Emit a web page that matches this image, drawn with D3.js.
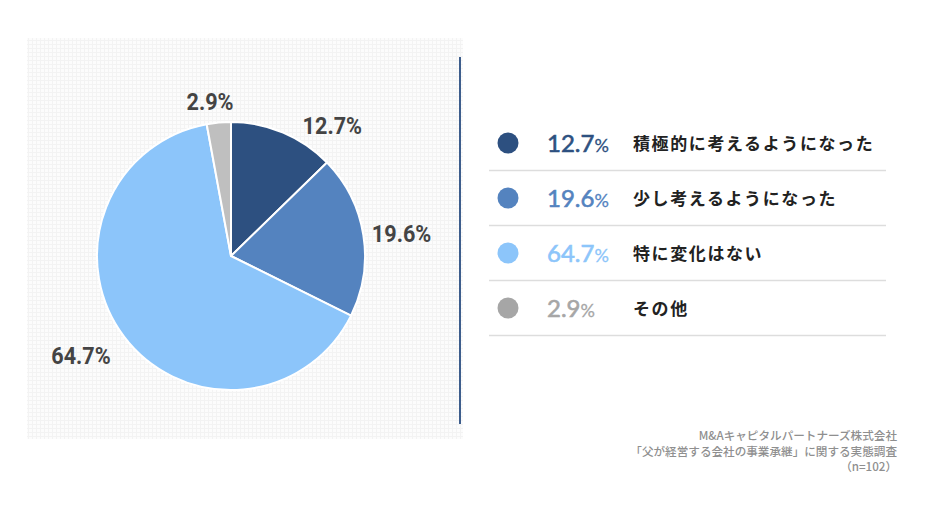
<!DOCTYPE html>
<html>
<head>
<meta charset="utf-8">
<script src="https://cdn.jsdelivr.net/npm/d3@7"></script>
<style>
  html, body { margin: 0; padding: 0; background: #ffffff; }
  svg { display: block; }
</style>
</head>
<body>
<svg id="chart" width="930" height="510"></svg>
<script>
// ---- data ----
const categories = ["積極的に考えるようになった", "少し考えるようになった", "特に変化はない", "その他"];
const values = [12.7, 19.6, 64.7, 2.9];
const sliceColors = ["#2d5080", "#5483bf", "#8cc5fa", "#bfbfbf"];
const legendColors = ["#2d5080", "#5483bf", "#8cc5fa", "#a6a6a6"];
const sourceLines = ["M&Aキャピタルパートナーズ株式会社", "「父が経営する会社の事業承継」に関する実態調査", "（n=102）"];

const svg = d3.select("#chart");

// ---- background panel with faint grid ----
const defs = svg.append("defs");
const pat = defs.append("pattern").attr("id", "grid")
  .attr("width", 4).attr("height", 4).attr("patternUnits", "userSpaceOnUse");
pat.append("rect").attr("width", 4).attr("height", 4).attr("fill", "#fcfcfc");
pat.append("path").attr("d", "M0,0.5H4M0.5,0V4").attr("stroke", "#f3f3f3").attr("stroke-width", 1);

svg.append("rect").attr("x", 27).attr("y", 38).attr("width", 436).attr("height", 401)
  .attr("fill", "url(#grid)");

svg.append("line").attr("x1", 460).attr("x2", 460).attr("y1", 57).attr("y2", 424)
  .attr("stroke", "#3d5d8c").attr("stroke-width", 2);

// ---- pie ----
const cx = 231, cy = 256, R = 134;
const data = categories.map((c, i) => ({ cat: c, value: values[i], i }));
const pie = d3.pie().value(d => d.value).sort(null);
const arcs = pie(data);
const arc = d3.arc().innerRadius(0).outerRadius(R);

const g = svg.append("g").attr("transform", `translate(${cx},${cy})`);
g.selectAll("path.slice").data(arcs).join("path")
  .attr("class", "slice")
  .attr("d", arc)
  .attr("fill", d => sliceColors[d.data.i])
  .attr("stroke", "#ffffff")
  .attr("stroke-width", 2)
  .attr("stroke-linejoin", "round");

// labels: placed outside, around the slice mid-angle (small angular nudges for layout)
const labelNudge = [15, 1.5, 3.5, -2.5];   // degrees
const labelRad = [165, 172, 180, 156];
g.selectAll("text.plabel").data(arcs).join("text")
  .attr("class", "plabel")
  .attr("transform", d => {
    const a = (d.startAngle + d.endAngle) / 2 + labelNudge[d.data.i] * Math.PI / 180;
    const r = labelRad[d.data.i];
    return `translate(${r * Math.sin(a)},${-r * Math.cos(a)}) scale(0.9,1)`;
  })
  .attr("text-anchor", "middle")
  .attr("dy", "0.36em")
  .attr("font-family", "Roboto, 'DejaVu Sans', sans-serif")
  .attr("font-weight", 700)
  .attr("font-size", 24)
  .attr("fill", "#444444")
  .text(d => d.data.value.toFixed(1) + "%");

// ---- legend ----
const rowY = d3.scalePoint().domain(d3.range(categories.length)).range([143, 308]);
const lg = svg.append("g");
const rows = lg.selectAll("g.row").data(data).join("g")
  .attr("class", "row")
  .attr("transform", d => `translate(0,${rowY(d.i)})`);

rows.append("circle").attr("cx", 508).attr("cy", 0).attr("r", 10.5)
  .attr("fill", d => legendColors[d.i]);

const num = rows.append("text").attr("x", 547).attr("y", 8.5)
  .attr("font-family", "Lato, 'Noto Sans', sans-serif")
  .attr("fill", d => legendColors[d.i])
  .attr("stroke", d => legendColors[d.i])
  .attr("stroke-width", 0.6);
num.append("tspan").attr("font-size", 24).text(d => d.value.toFixed(1));
num.append("tspan").attr("font-size", 18).attr("stroke-width", 0.3).text("%");

rows.append("text").attr("x", 633).attr("y", 6.5)
  .attr("font-family", "'Noto Sans CJK JP', sans-serif")
  .attr("font-weight", 700)
  .attr("font-size", 17)
  .attr("letter-spacing", 1.6)
  .attr("fill", "#222222")
  .text(d => d.cat);

rows.append("line").attr("x1", 489).attr("x2", 886).attr("y1", 27.5).attr("y2", 27.5)
  .attr("stroke", "#dddddd").attr("stroke-width", 1.5);

// ---- source ----
svg.append("g").selectAll("text").data(sourceLines).join("text")
  .attr("x", 897)
  .attr("y", (d, i) => 440 + i * 15.5)
  .attr("text-anchor", "end")
  .attr("font-family", "'Noto Sans CJK JP', sans-serif")
  .attr("font-weight", 500)
  .attr("font-size", 11.6)
  .attr("fill", "#8f8f8f")
  .text(d => d);
</script>
</body>
</html>
